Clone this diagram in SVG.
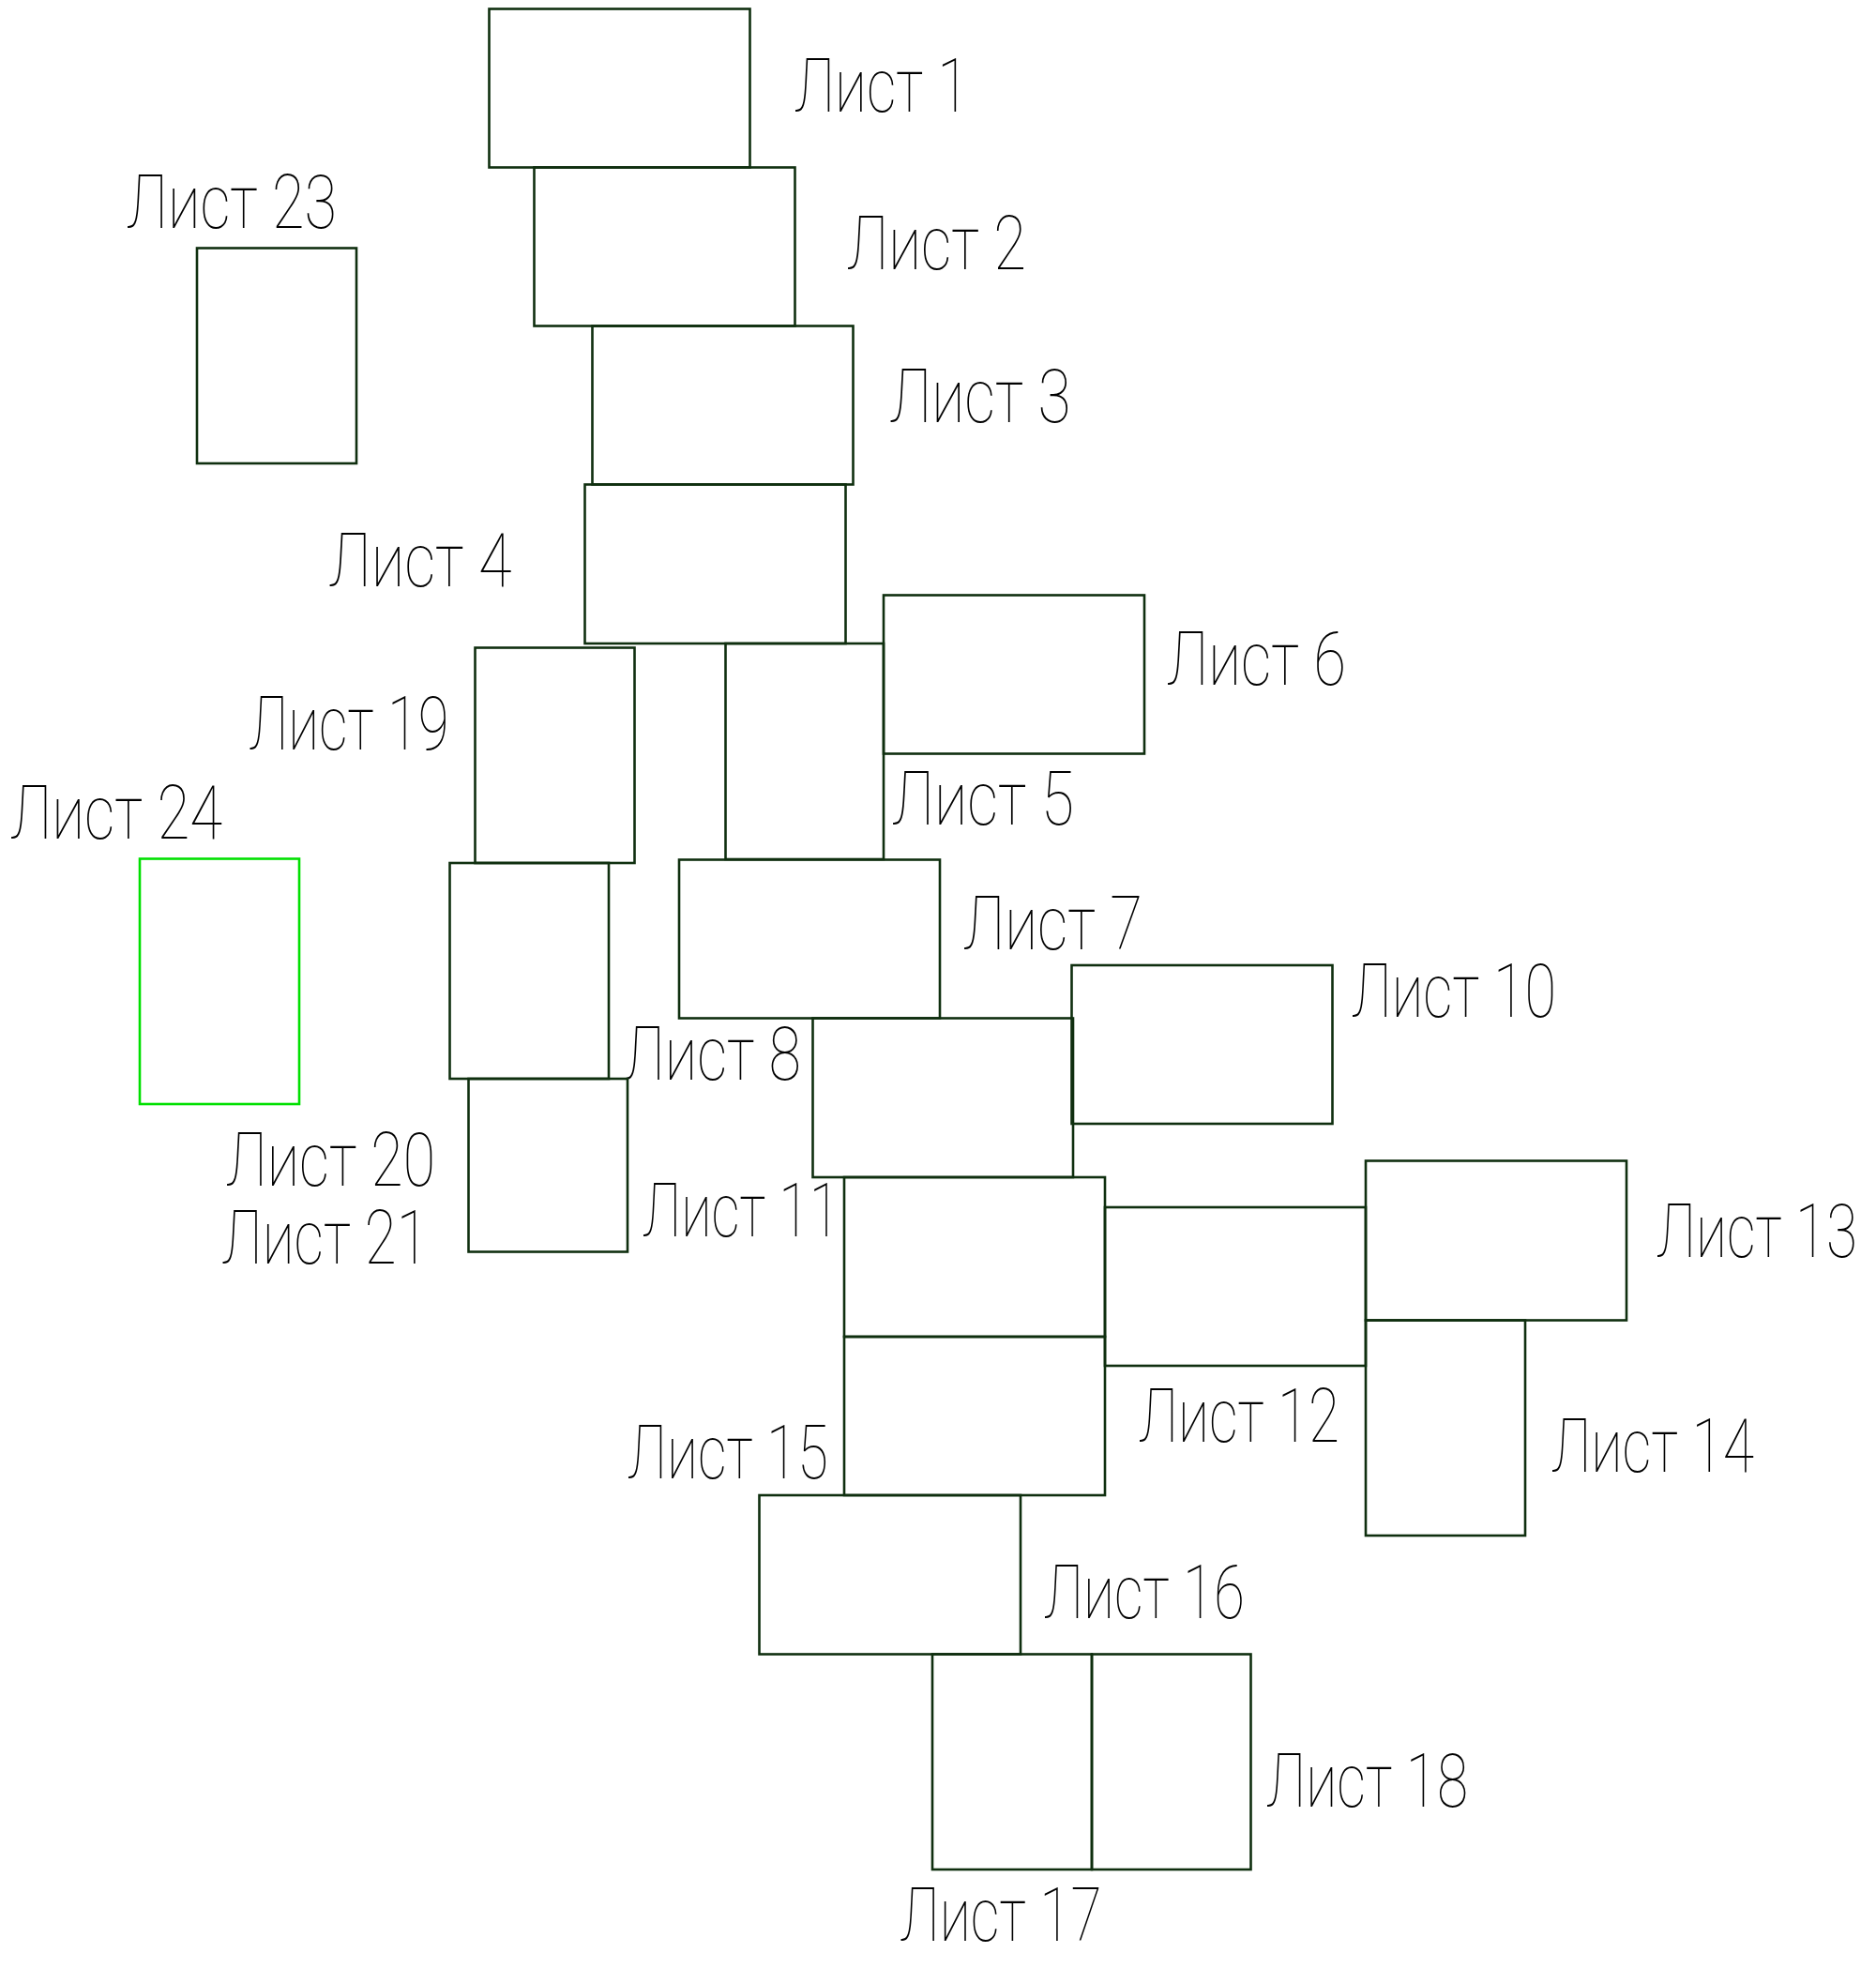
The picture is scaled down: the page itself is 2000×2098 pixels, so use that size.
<svg xmlns="http://www.w3.org/2000/svg" width="2000" height="2098" viewBox="0 0 2000 2098">
<style>
.s{fill:none;stroke:#0f2f0f;stroke-width:2.6}
.g{fill:none;stroke:#00e000;stroke-width:2.6}
.t{font-family:Roboto,Inter,"DejaVu Sans",sans-serif;font-weight:100;font-size:80px;fill:#000}
</style>
<rect width="2000" height="2098" fill="#fff"/>
<g id="sheet1"><rect class="s" x="521.5" y="9.5" width="278" height="169"/><text class="t" x="847" y="119" textLength="186" lengthAdjust="spacingAndGlyphs">Лист 1</text></g>
<g id="sheet2"><rect class="s" x="569.5" y="178.5" width="278" height="169"/><text class="t" x="903" y="287" textLength="191" lengthAdjust="spacingAndGlyphs">Лист 2</text></g>
<g id="sheet3"><rect class="s" x="631.5" y="347.5" width="278" height="169"/><text class="t" x="948.5" y="449.5" textLength="193" lengthAdjust="spacingAndGlyphs">Лист 3</text></g>
<g id="sheet4"><rect class="s" x="623.5" y="516.5" width="278" height="169.5"/><text class="t" x="350.5" y="625" textLength="195" lengthAdjust="spacingAndGlyphs">Лист 4</text></g>
<g id="sheet5"><rect class="s" x="773.5" y="686" width="168.5" height="230"/><text class="t" x="951" y="879" textLength="194" lengthAdjust="spacingAndGlyphs">Лист 5</text></g>
<g id="sheet6"><rect class="s" x="942" y="634.5" width="278" height="169"/><text class="t" x="1244" y="730" textLength="191" lengthAdjust="spacingAndGlyphs">Лист 6</text></g>
<g id="sheet7"><rect class="s" x="724" y="916.5" width="278" height="169"/><text class="t" x="1027" y="1011.5" textLength="191" lengthAdjust="spacingAndGlyphs">Лист 7</text></g>
<g id="sheet8"><rect class="s" x="866.5" y="1085.5" width="277.5" height="169.5"/><text class="t" x="665" y="1151" textLength="189" lengthAdjust="spacingAndGlyphs">Лист 8</text></g>
<g id="sheet10"><rect class="s" x="1142.5" y="1029" width="278" height="169"/><text class="t" x="1441" y="1083.5" textLength="218" lengthAdjust="spacingAndGlyphs">Лист 10</text></g>
<g id="sheet11"><rect class="s" x="900" y="1255" width="278" height="170"/><text class="t" x="685" y="1318" textLength="210" lengthAdjust="spacingAndGlyphs">Лист 11</text></g>
<g id="sheet12"><rect class="s" x="1178" y="1287" width="278" height="169"/><text class="t" x="1214" y="1536.5" textLength="214" lengthAdjust="spacingAndGlyphs">Лист 12</text></g>
<g id="sheet13"><rect class="s" x="1456" y="1237.5" width="278" height="170"/><text class="t" x="1766" y="1340" textLength="214" lengthAdjust="spacingAndGlyphs">Лист 13</text></g>
<g id="sheet14"><rect class="s" x="1456" y="1407.5" width="170" height="229.5"/><text class="t" x="1654" y="1568.5" textLength="216" lengthAdjust="spacingAndGlyphs">Лист 14</text></g>
<g id="sheet15"><rect class="s" x="900" y="1425" width="278" height="169"/><text class="t" x="669" y="1576" textLength="214" lengthAdjust="spacingAndGlyphs">Лист 15</text></g>
<g id="sheet16"><rect class="s" x="809.5" y="1594" width="278.5" height="169.5"/><text class="t" x="1113" y="1725" textLength="214" lengthAdjust="spacingAndGlyphs">Лист 16</text></g>
<g id="sheet17"><rect class="s" x="994" y="1763.5" width="170" height="229.5"/><text class="t" x="959.5" y="2069" textLength="215" lengthAdjust="spacingAndGlyphs">Лист 17</text></g>
<g id="sheet18"><rect class="s" x="1164" y="1763.5" width="169.5" height="229.5"/><text class="t" x="1350" y="1926" textLength="215" lengthAdjust="spacingAndGlyphs">Лист 18</text></g>
<g id="sheet19"><rect class="s" x="506.5" y="690.5" width="170" height="229.5"/><text class="t" x="265.5" y="799" textLength="213" lengthAdjust="spacingAndGlyphs">Лист 19</text></g>
<g id="sheet20"><rect class="s" x="479.5" y="920" width="169.5" height="230"/><text class="t" x="241" y="1264" textLength="223" lengthAdjust="spacingAndGlyphs">Лист 20</text></g>
<g id="sheet21"><rect class="s" x="499.5" y="1150" width="169.5" height="184.5"/><text class="t" x="236.5" y="1347" textLength="220" lengthAdjust="spacingAndGlyphs">Лист 21</text></g>
<g id="sheet23"><rect class="s" x="210" y="264.5" width="170" height="229.5"/><text class="t" x="135" y="243" textLength="224" lengthAdjust="spacingAndGlyphs">Лист 23</text></g>
<g id="sheet24"><rect class="g" x="149" y="915.5" width="170" height="261.5"/><text class="t" x="11" y="894" textLength="226" lengthAdjust="spacingAndGlyphs">Лист 24</text></g>
</svg>
